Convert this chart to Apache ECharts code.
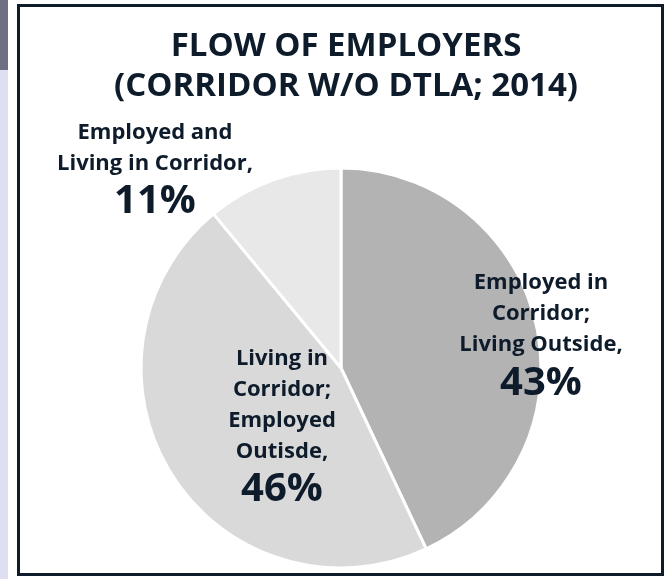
<!DOCTYPE html>
<html>
<head>
<meta charset="utf-8">
<script src="https://cdn.jsdelivr.net/npm/echarts@6/dist/echarts.min.js"></script>
<style>
  html, body { margin: 0; padding: 0; background: #ffffff; }
  #chart { width: 666px; height: 579px; }
</style>
</head>
<body>
<div id="chart"></div>
<script>
// Commuter flow shares for the corridor (excluding DTLA), 2014
const titleLines = ['FLOW OF EMPLOYERS', '(CORRIDOR W/O DTLA; 2014)'];
const categories = [
  'Employed in\nCorridor;\nLiving Outside,',
  'Living in\nCorridor;\nEmployed\nOutisde,',
  'Employed and\nLiving in Corridor,'
];
const shares = [43, 46, 11];
const sliceColors = ['#b3b3b3', '#d9d9d9', '#e8e8e8'];

const ink = '#0d1b2a';
const font = '"Open Sans", "DejaVu Sans", sans-serif';

// Label block centres (px) for each slice's annotation
const labelSpots = [[541, 337], [282, 428], [155, 171]];

const chart = echarts.init(document.getElementById('chart'), null, { renderer: 'canvas' });

chart.setOption({
  backgroundColor: '#ffffff',
  animation: false,
  title: {
    text: titleLines.join('\n'),
    left: 341,
    top: 22,
    textAlign: 'center',
    textStyle: {
      color: ink,
      fontFamily: font,
      fontWeight: 'bold',
      fontSize: 33,
      lineHeight: 40
    }
  },
  graphic: [
    { type: 'rect', shape: { x: 0, y: 0, width: 8, height: 579 }, style: { fill: '#dedff0' }, silent: true },
    { type: 'rect', shape: { x: 0, y: 0, width: 8, height: 70 }, style: { fill: '#6d6f84' }, silent: true },
    {
      type: 'rect',
      shape: { x: 18.5, y: 5.5, width: 644, height: 569 },
      style: { fill: 'none', stroke: ink, lineWidth: 3 },
      silent: true
    }
  ],
  series: [{
    type: 'pie',
    center: [341, 368],
    radius: 200,
    startAngle: 90,
    clockwise: true,
    silent: true,
    itemStyle: { borderColor: '#ffffff', borderWidth: 3 },
    labelLine: { show: false },
    label: {
      show: true,
      position: 'inside',
      color: ink,
      fontFamily: font,
      formatter: function (p) {
        const lines = p.name.split('\n').map(function (s) { return '{n|' + s + '}'; });
        lines.push('{v|' + p.value + '%}');
        return lines.join('\n');
      },
      rich: {
        n: { fontFamily: font, fontWeight: 'bold', fontSize: 22, lineHeight: 31, color: ink, align: 'center' },
        v: { fontFamily: font, fontWeight: 'bold', fontSize: 40, lineHeight: 46, color: ink, align: 'center' }
      }
    },
    labelLayout: function (params) {
      const spot = labelSpots[params.dataIndex];
      return { x: spot[0], y: spot[1], align: 'center', verticalAlign: 'middle' };
    },
    data: shares.map(function (v, i) {
      return { name: categories[i], value: v, itemStyle: { color: sliceColors[i] } };
    })
  }]
});
</script>
</body>
</html>
